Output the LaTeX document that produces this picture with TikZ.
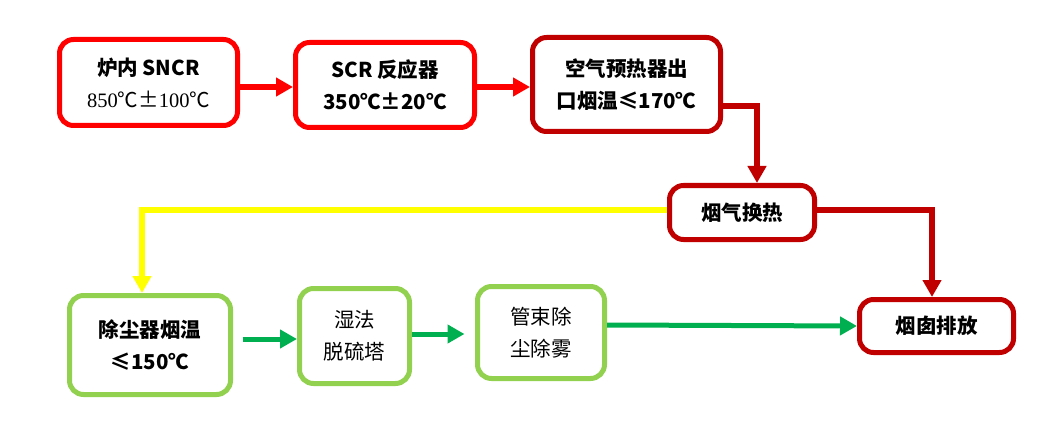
\documentclass[tikz,border=0pt]{standalone}
\usepackage{fontspec}
\setmainfont{Noto Sans CJK SC}
\newfontfamily\numserif{Liberation Serif}
\usetikzlibrary{arrows.meta}
\tikzset{>={Triangle[width=18pt,length=17pt]}}
\definecolor{lred}{HTML}{FF0000}
\definecolor{dred}{HTML}{C00000}
\definecolor{lgreen}{HTML}{92D050}
\definecolor{dgreen}{HTML}{00B050}
\definecolor{fyellow}{HTML}{FFFF00}

\begin{document}
\begin{tikzpicture}[x=1pt,y=-1pt]
\tikzstyle{stage}=[
    rectangle,
    rounded corners=14pt,
    line width=5pt,
    inner sep=0pt,
    align=center,
    font=\fontsize{20.5}{32}\selectfont]
\tikzstyle{flow}=[->, line width=6pt]
\useasboundingbox (0,0) rectangle (1043,422);
% top row
\node[stage, draw=lred, minimum width=178pt, minimum height=86pt] (sncr) at (148.5,82.5) {\textbf{炉内 SNCR}\\{\numserif 850}℃±{\numserif 100}℃};
\node[stage, draw=lred, minimum width=179pt, minimum height=85pt] (scr) at (385,85) {\textbf{SCR 反应器}\\\textbf{350℃±20℃}};
\node[stage, draw=dred, minimum width=188pt, minimum height=94pt] (aph) at (626.5,84.5) {\textbf{空气预热器出}\\\textbf{口烟温≤170℃}};
\node[stage, draw=dred, minimum width=145pt, minimum height=54pt] (ggh) at (742,212.5) {\textbf{烟气换热}};
% bottom row
\node[stage, draw=lgreen, minimum width=161pt, minimum height=99pt] (esp) at (150,345) {\textbf{除尘器烟温}\\\textbf{≤150℃}};
\node[stage, draw=lgreen, minimum width=110pt, minimum height=95pt] (fgd) at (354.5,336) {湿法\\脱硫塔};
\node[stage, draw=lgreen, minimum width=127pt, minimum height=92pt] (mist) at (541,332.5) {管束除\\尘除雾};
\node[stage, draw=dred, minimum width=154pt, minimum height=53pt] (stack) at (936.5,326) {\textbf{烟囱排放}};
% connectors
\draw[flow, lred] ([yshift=-4.5pt]sncr.east) -- ([yshift=-2pt]scr.west);
\draw[flow, lred] ([yshift=-2pt]scr.east) -- ([yshift=-2.5pt]aph.west);
\draw[flow, dred] ([yshift=-21.5pt]aph.east) -| ([xshift=15pt]ggh.north);
\draw[flow, dred] ([yshift=2.5pt]ggh.east) -| ([xshift=-4.5pt]stack.north);
\draw[flow, fyellow] ([yshift=2.5pt]ggh.west) -| ([xshift=-8pt]esp.north);
\draw[flow, dgreen, line width=5pt, shorten <=9.5pt] ([yshift=6pt]esp.east) -- ([yshift=-3pt]fgd.west);
\draw[flow, dgreen, line width=5pt, shorten >=10.5pt] ([yshift=2pt]fgd.east) -- ([yshift=-1.5pt]mist.west);
\draw[flow, dgreen, line width=5pt] ([yshift=7.5pt]mist.east) -- (stack.west);
\end{tikzpicture}
\end{document}
